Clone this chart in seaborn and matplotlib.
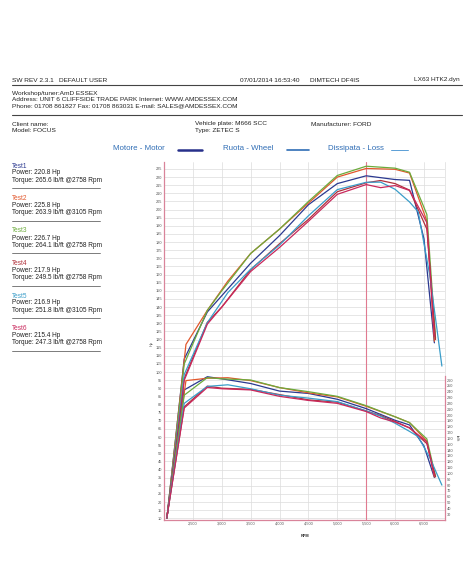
import matplotlib
matplotlib.use("Agg")
import matplotlib.pyplot as plt
from matplotlib.lines import Line2D
import pandas as pd
import seaborn as sns

# ---------------- data ----------------
tests = ["Test1", "Test2", "Test3", "Test4", "Test5", "Test6"]
test_colors = ["#2b3990", "#e2572c", "#6cab3c", "#b0303a", "#3a9dc9", "#c9285c"]
peak_power = ["220.8", "225.8", "226.7", "217.9", "216.9", "215.4"]
peak_torque = ["265.6", "263.9", "264.1", "249.5", "251.8", "247.3"]
peak_torque_rpm = ["2758", "3105", "2758", "2758", "3105", "2758"]

rpm_t1 = [2050, 2350, 2750, 3000, 3500, 4000, 4500, 5000, 5500, 6000, 6250, 6500, 6680]
hp_t1 = [10, 108, 137, 147, 167, 184, 203, 216, 220.8, 218.5, 218, 182, 118]
tq_t1 = [25, 243, 265.6, 262, 254, 241, 237, 227, 211, 191, 183, 147, 93]

rpm_t2 = [2050, 2380, 2750, 3105, 3500, 4000, 4500, 5000, 5500, 6000, 6250, 6550, 6680]
hp_t2 = [10, 117, 138, 156, 173, 188, 204, 220, 225.3, 224.8, 222.5, 193, 119]
tq_t2 = [25, 259, 263, 263.9, 259, 247, 238, 231, 215, 197, 187, 155, 94]

rpm_t3 = [2050, 2350, 2750, 3000, 3500, 4000, 4500, 5000, 5500, 6000, 6250, 6550, 6700]
hp_t3 = [10, 105, 138, 150, 173, 188, 205, 221, 226.7, 225.5, 223, 197, 121]
tq_t3 = [25, 234, 264.1, 262, 260, 247, 240, 232, 216, 197, 187, 159, 95]

rpm_t4 = [2050, 2350, 2750, 3000, 3500, 4000, 4500, 5000, 5500, 5750, 6000, 6250, 6550, 6700]
hp_t4 = [10, 96, 130.6, 140, 163, 179, 194, 211, 216.5, 217.9, 216, 212, 188, 120]
tq_t4 = [25, 214, 249.5, 246, 244, 235, 226, 222, 207, 199, 189, 178, 151, 94]

rpm_t5 = [2050, 2350, 2750, 3105, 3500, 4000, 4500, 5000, 5500, 5750, 6000, 6250, 6400, 6600, 6810]
hp_t5 = [10, 98.5, 130.4, 148.9, 163.3, 178.2, 196.2, 212.3, 216.8, 216.9, 212.5, 204.7, 198.6, 159.6, 103.7]
tq_t5 = [25, 220, 249, 251.8, 245, 234, 229, 223, 207, 198, 186, 172, 163, 127, 80]

rpm_t6 = [2050, 2350, 2750, 3000, 3500, 4000, 4500, 5000, 5500, 5750, 6000, 6250, 6550, 6680]
hp_t6 = [10, 94.9, 129.5, 140, 161.9, 176.7, 192.8, 209.4, 215.4, 213.5, 214.8, 211.8, 192, 122]
tq_t6 = [25, 212, 247.3, 245, 243, 232, 225, 220, 206, 195, 188, 178, 154, 96]

x_ticks = [2500, 3000, 3500, 4000, 4500, 5000, 5500, 6000, 6500]
x_tick_labels = ["2,500", "3,000", "3,500", "4,000", "4,500", "5,000", "5,500", "6,000", "6,500"]
hp_ticks = list(range(10, 230, 5))
tq_ticks = list(range(30, 270, 10))

rpms = [rpm_t1, rpm_t2, rpm_t3, rpm_t4, rpm_t5, rpm_t6]
hps = [hp_t1, hp_t2, hp_t3, hp_t4, hp_t5, hp_t6]
tqs = [tq_t1, tq_t2, tq_t3, tq_t4, tq_t5, tq_t6]

rows = []
for name, r, h, t in zip(tests, rpms, hps, tqs):
    for a, b, c in zip(r, h, t):
        rows.append({"test": name, "rpm": a, "hp": b, "tq": c})
df = pd.DataFrame(rows)

# ---------------- figure ----------------
sns.set_style("white")
plt.rcParams["font.family"] = ["Liberation Sans", "DejaVu Sans"]

W, H = 470, 588
fig = plt.figure(figsize=(W / 100, H / 100), dpi=100)
fig.patch.set_facecolor("white")


def P(x, y):
    return x / W, 1 - y / H


def ftext(x, y, s, size=4.65, color="#222222", **kw):
    fig.text(*P(x, y), s, fontsize=size, color=color, va="center", **kw)


def fline(x0, x1, y0, y1, color="#555555", lw=0.8):
    (a, b), (c, d) = P(x0, y0), P(x1, y1)
    fig.add_artist(Line2D([a, c], [b, d], transform=fig.transFigure, color=color, lw=lw))


# header
ftext(12, 80, "SW REV 2.3.1   DEFAULT USER")
ftext(240, 80, "07/01/2014 16:53:40")
ftext(310, 80, "DIMTECH DF4IS")
ftext(460, 80, "LX63 HTK2.dyn", ha="right")
fline(12, 462, 84.5, 84.5, color="#444444", lw=0.8)
ftext(12, 93, "Workshop/tuner:AmD ESSEX")
ftext(12, 99.5, "Address: UNIT 6 CLIFFSIDE TRADE PARK Internet: WWW.AMDESSEX.COM")
ftext(12, 106, "Phone: 01708 861827 Fax: 01708 863031 E-mail: SALES@AMDESSEX.COM")
fline(12, 462, 115, 115, color="#444444", lw=0.8)
ftext(12, 124, "Client name:")
ftext(12, 130.5, "Model: FOCUS")
ftext(195, 124, "Vehicle plate: M666 SCC")
ftext(195, 130.5, "Type: ZETEC S")
ftext(311, 124, "Manufacturer: FORD")

# legend row
leg_blue = "#2f6db5"
ftext(113, 149, "Motore - Motor", size=5.7, color=leg_blue)
fline(178, 202, 150, 150, color="#27308a", lw=1.8)
ftext(223, 149, "Ruota - Wheel", size=5.7, color=leg_blue)
fline(287, 309, 150, 150, color="#2f6db5", lw=1.2)
ftext(328, 149, "Dissipata - Loss", size=5.7, color=leg_blue)
fline(391, 408, 150, 150, color="#5a9fd6", lw=0.7)

# test info blocks
for i, name in enumerate(tests):
    y0 = 166 + i * 32.5
    ftext(12, y0, name, size=4.7, color=test_colors[i])
    ftext(12, y0 + 7, f"Power: {peak_power[i]} Hp", size=4.7)
    ftext(12, y0 + 14, f"Torque: {peak_torque[i]} lb/ft @{peak_torque_rpm[i]} Rpm", size=4.7)
    fline(12, 100, y0 + 22, y0 + 22, color="#666666", lw=0.6)

# ---------------- chart ----------------
ax_l, ax_r, ax_t, ax_b = 164, 445, 161.5, 519.5
ax = fig.add_axes([ax_l / W, 1 - ax_b / H, (ax_r - ax_l) / W, (ax_b - ax_t) / H])
ax.set_facecolor("white")
ax2 = ax.twinx()

palette = dict(zip(tests, test_colors))
sns.lineplot(data=df, x="rpm", y="hp", hue="test", palette=palette, estimator=None,
             sort=False, legend=False, lw=0.9, ax=ax)
sns.lineplot(data=df, x="rpm", y="tq", hue="test", palette=palette, estimator=None,
             sort=False, legend=False, lw=0.9, ax=ax2)

ax.set_xlim(2000, 6864)
ax.set_ylim(9.26, 229.6)
ax2.set_ylim(21.1, 634.2)

ax.set_xticks(x_ticks)
ax.set_xticklabels(x_tick_labels)
ax.set_yticks(hp_ticks)
ax.set_yticklabels([str(v) for v in hp_ticks])
ax2.set_yticks(tq_ticks)
ax2.set_yticklabels([str(v) for v in tq_ticks])

ax.grid(True, color="#dcdcdc", lw=0.5)
ax.set_axisbelow(True)
ax.axvline(5500, color="#e07a90", lw=0.8, zorder=1)

ax.tick_params(axis="both", length=0, labelsize=2.8, colors="#555555", pad=1.5)
ax2.tick_params(axis="y", length=0, labelsize=2.8, colors="#555555", pad=1.5)
ax.set_xlabel("")
ax.set_ylabel("")
ax2.set_xlabel("")
ax2.set_ylabel("")

pink = "#d9849a"
for s in ["left", "bottom"]:
    ax.spines[s].set_color(pink)
    ax.spines[s].set_linewidth(0.9)
ax.spines["top"].set_visible(False)
ax.spines["right"].set_color("#dcdcdc")
ax.spines["right"].set_linewidth(0.5)
ax2.spines["top"].set_visible(False)
ax2.spines["left"].set_visible(False)
ax2.spines["bottom"].set_visible(False)
ax2.spines["right"].set_color(pink)
ax2.spines["right"].set_linewidth(0.9)
ax2.spines["right"].set_bounds(21.1, 267)

# axis unit labels
ftext(152, 343, "Hp", size=2.8, color="#555555", rotation=90, ha="center")
ftext(457, 438, "lb/ft", size=2.8, color="#555555", rotation=270, ha="center")
ftext(305, 536, "RPM", size=2.8, color="#333333", ha="center", weight="bold")

fig.savefig("out.png", dpi=100, facecolor="white")
